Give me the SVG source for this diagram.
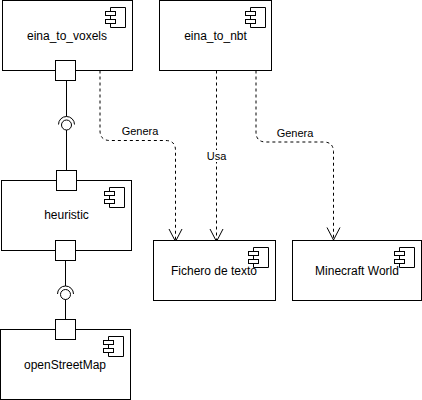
<svg xmlns="http://www.w3.org/2000/svg" width="422" height="400" viewBox="0 0 422 400">
<style>
text{font-family:"Liberation Sans",Arial,sans-serif;font-size:11px;fill:#000;text-anchor:middle}
.n{font-size:12px}
.s{fill:#fff;stroke:#000;stroke-width:1}
.l{fill:none;stroke:#000;stroke-width:1}
.d{fill:none;stroke:#000;stroke-width:1;stroke-dasharray:3 3}
</style>
<defs>
<g id="icon"><path class="s" d="M5 0H20V20H5Z"/><rect class="s" x="0" y="4" width="10" height="4"/><rect class="s" x="0" y="12" width="10" height="4"/></g>
</defs>
<rect width="422" height="400" fill="#fff"/>
<g id="connectors">
<path class="l" d="M66.500 80.500V116.500M66.500 130V170.500"/>
<path class="l" d="M58.500 124.500a8 8 0 0 1 16 0"/><circle class="l" cx="66.500" cy="125" r="5"/>
<path class="l" d="M65.500 260.500V286M65.500 299.500V319.500"/>
<path class="l" d="M57.500 294a8 8 0 0 1 16 0"/><circle class="l" cx="65.500" cy="294.500" r="5"/>
<path class="d" d="M100 70.500V130.500Q100 140.500 110 140.500H165.500Q175.500 140.500 175.500 150.500V241"/>
<path class="l" d="M169 229L175.500 241.500L182 229"/>
<path class="d" d="M216.500 70.500V241"/>
<path class="l" d="M210 229L216.500 241.500L223 229"/>
<path class="d" d="M256 70.500V132Q256 142 266 142H323.500Q333.500 142 333.500 152V240"/>
<path class="l" d="M327 227.500L333.500 240L340 227.500"/>
<rect x="206" y="150" width="21" height="12" fill="#fff"/>
<text x="140" y="135">Genera</text>
<text x="216.500" y="160">Usa</text>
<text x="295" y="137">Genera</text>
</g>
<g id="eina_to_voxels"><rect class="s" x="2.500" y="0.500" width="130" height="70"/><use href="#icon" x="105.500" y="7.500"/><text class="n" x="67" y="40">eina_to_voxels</text><rect class="s" x="55.500" y="60.500" width="20" height="20"/></g>
<g id="eina_to_nbt"><rect class="s" x="159.500" y="0.500" width="112" height="70"/><use href="#icon" x="245.500" y="7.500"/><text class="n" x="215.500" y="40">eina_to_nbt</text></g>
<g id="heuristic"><rect class="s" x="1.500" y="180.500" width="130" height="70"/><use href="#icon" x="104.500" y="187.500"/><text class="n" x="66.500" y="219">heuristic</text><rect class="s" x="56.500" y="170.500" width="20" height="20"/><rect class="s" x="55.500" y="240.500" width="20" height="20"/></g>
<g id="openStreetMap"><rect class="s" x="0.500" y="329.500" width="130" height="70"/><use href="#icon" x="103.500" y="336.500"/><text class="n" x="65" y="369">openStreetMap</text><rect class="s" x="55.500" y="319.500" width="20" height="20"/></g>
<g id="fichero"><rect class="s" x="153.500" y="240.500" width="122" height="60"/><use href="#icon" x="248.500" y="247.500"/><text class="n" x="214" y="275">Fichero de texto</text></g>
<g id="minecraft"><rect class="s" x="292.500" y="240.500" width="129" height="60"/><use href="#icon" x="394.500" y="247.500"/><text class="n" x="357" y="275">Minecraft World</text></g>
</svg>
